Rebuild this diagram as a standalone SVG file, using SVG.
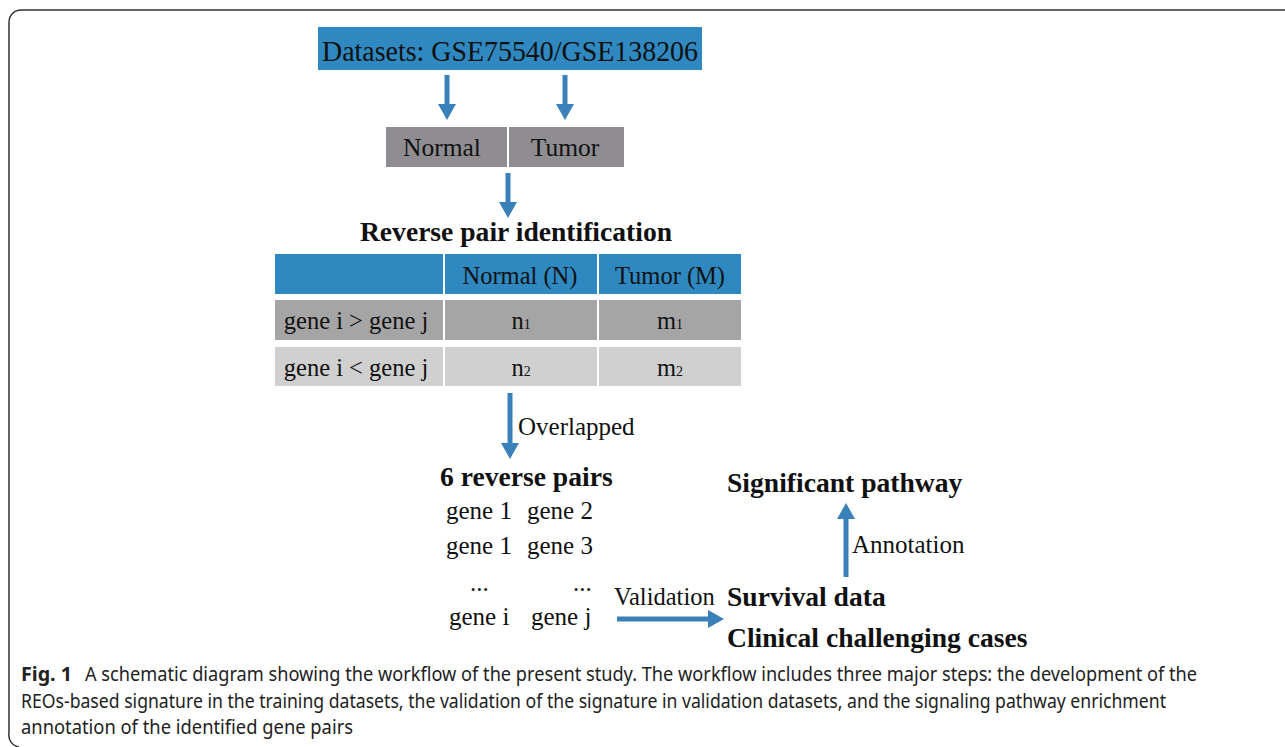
<svg xmlns="http://www.w3.org/2000/svg" width="1285" height="747" viewBox="0 0 1285 747">
<style>
.t{font-family:"Liberation Serif","Times New Roman",serif;fill:#111}
.b{font-family:"Liberation Serif","Times New Roman",serif;font-weight:bold;fill:#111}
.cap{font-family:"Noto Sans","Open Sans",sans-serif;font-size:19px;fill:#222}
.blue{fill:#2f88c0}
.arr{stroke:#3a81ba;stroke-width:5;fill:none}
</style>
<defs>
<marker id="ah" markerUnits="userSpaceOnUse" markerWidth="16" markerHeight="18" refX="0" refY="9" orient="auto">
<path d="M0,0 L16,9 L0,18 z" fill="#3a81ba"/>
</marker>
</defs>
<rect width="1285" height="747" fill="#fff"/>
<path d="M1290 10 H21 A12 12 0 0 0 9 22 V733 A12 12 0 0 0 19 747" fill="none" stroke="#333" stroke-width="1.5"/>

<g id="datasets">
<rect x="318" y="27" width="384" height="43" class="blue"/>
<text class="t" x="510" y="61" font-size="29" text-anchor="middle" textLength="376" lengthAdjust="spacingAndGlyphs">Datasets: GSE75540/GSE138206</text>
</g>
<g id="normal">
<rect x="386" y="127" width="121" height="40" fill="#8f8d91"/>
<text class="t" x="442" y="156" font-size="25.5" text-anchor="middle">Normal</text>
</g>
<g id="tumor">
<rect x="509" y="127" width="115" height="40" fill="#8f8d91"/>
<text class="t" x="565" y="156" font-size="25.5" text-anchor="middle">Tumor</text>
</g>

<g id="reverse-pair-identification">
<text class="b" x="516" y="241" font-size="27.6" text-anchor="middle">Reverse pair identification</text>
<rect x="275" y="254" width="168" height="40" class="blue"/>
<rect x="445" y="254" width="152" height="40" class="blue"/>
<rect x="599" y="254" width="142" height="40" class="blue"/>
<rect x="275" y="300" width="168" height="40" fill="#a5a5a5"/>
<rect x="445" y="300" width="152" height="40" fill="#a5a5a5"/>
<rect x="599" y="300" width="142" height="40" fill="#a5a5a5"/>
<rect x="275" y="347" width="168" height="39" fill="#d0d0d0"/>
<rect x="445" y="347" width="152" height="39" fill="#d0d0d0"/>
<rect x="599" y="347" width="142" height="39" fill="#d0d0d0"/>
<text class="t" x="520" y="284" font-size="24.5" text-anchor="middle">Normal (N)</text>
<text class="t" x="670" y="284" font-size="24.5" text-anchor="middle">Tumor (M)</text>
<text class="t" x="356" y="329" font-size="24.5" text-anchor="middle">gene i &gt; gene j</text>
<text class="t" x="356" y="376" font-size="24.5" text-anchor="middle">gene i &lt; gene j</text>
<text class="t" x="521" y="329" font-size="24.5" text-anchor="middle">n<tspan font-size="14">1</tspan></text>
<text class="t" x="670" y="329" font-size="24.5" text-anchor="middle">m<tspan font-size="14">1</tspan></text>
<text class="t" x="521" y="376" font-size="24.5" text-anchor="middle">n<tspan font-size="14">2</tspan></text>
<text class="t" x="670" y="376" font-size="24.5" text-anchor="middle">m<tspan font-size="14">2</tspan></text>
</g>

<g id="reverse-pairs">
<text class="b" x="440" y="486" font-size="27.6">6 reverse pairs</text>
<text class="t" x="446" y="519" font-size="25">gene 1</text>
<text class="t" x="527" y="519" font-size="25">gene 2</text>
<text class="t" x="446" y="554" font-size="25">gene 1</text>
<text class="t" x="527" y="554" font-size="25">gene 3</text>
<text class="t" x="470" y="591" font-size="25">...</text>
<text class="t" x="573" y="591" font-size="25">...</text>
<text class="t" x="449" y="625" font-size="25">gene i</text>
<text class="t" x="531" y="625" font-size="25">gene j</text>
</g>

<g id="validation-targets">
<text class="b" x="727" y="606" font-size="27.6">Survival data</text>
<text class="b" x="727" y="647" font-size="27.6">Clinical challenging cases</text>
</g>
<g id="significant-pathway">
<text class="b" x="727" y="492" font-size="27.6">Significant pathway</text>
</g>

<g id="connectors">
<line class="arr" x1="447" y1="75" x2="447" y2="104" marker-end="url(#ah)"/>
<line class="arr" x1="565" y1="75" x2="565" y2="104" marker-end="url(#ah)"/>
<line class="arr" x1="508" y1="173" x2="508" y2="202" marker-end="url(#ah)"/>
<line class="arr" x1="510" y1="393" x2="510" y2="443" marker-end="url(#ah)"/>
<line class="arr" x1="617" y1="619" x2="708" y2="619" marker-end="url(#ah)"/>
<line class="arr" x1="846" y1="577" x2="846" y2="519" marker-end="url(#ah)"/>
<text class="t" x="518" y="435" font-size="25">Overlapped</text>
<text class="t" x="614" y="605" font-size="24.5">Validation</text>
<text class="t" x="852" y="553" font-size="25">Annotation</text>
</g>

<g id="caption">
<text class="cap" x="21" y="681" font-weight="bold" textLength="51" lengthAdjust="spacingAndGlyphs">Fig. 1</text>
<text class="cap" x="85" y="681" textLength="1112" lengthAdjust="spacingAndGlyphs">A schematic diagram showing the workflow of the present study. The workflow includes three major steps: the development of the</text>
<text class="cap" x="21" y="708" textLength="1145" lengthAdjust="spacingAndGlyphs">REOs-based signature in the training datasets, the validation of the signature in validation datasets, and the signaling pathway enrichment</text>
<text class="cap" x="21" y="734" textLength="332" lengthAdjust="spacingAndGlyphs">annotation of the identified gene pairs</text>
</g>
</svg>
